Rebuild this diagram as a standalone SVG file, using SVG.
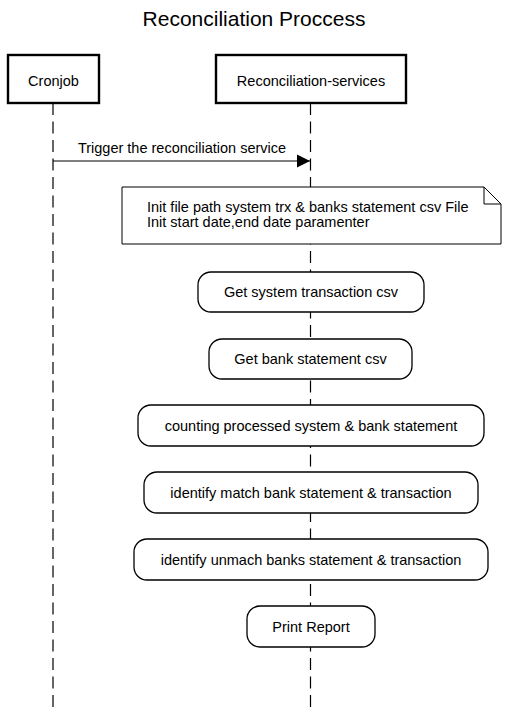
<svg xmlns="http://www.w3.org/2000/svg" width="508" height="708" viewBox="0 0 508 708">
<defs>
<style>
text{font-family:"Liberation Sans",Arial,sans-serif;fill:#000;}
.t{font-size:14.5px;text-anchor:middle;}
.title{font-size:21px;text-anchor:middle;}
.actor{fill:#fff;stroke:#000;stroke-width:2.4;}
.step{fill:#fff;stroke:#000;stroke-width:1.3;}
.life{stroke:#000;stroke-width:1.2;stroke-dasharray:12 6.5;fill:none;}
.msg{stroke:#000;stroke-width:1.2;fill:none;}
</style>
<marker id="arr" viewBox="0 0 14 14" refX="13" refY="7" markerWidth="14" markerHeight="14" markerUnits="userSpaceOnUse" orient="auto">
<path d="M0,0.5 L13,7 L0,13.5 Z" fill="#000"/>
</marker>
</defs>
<rect width="508" height="708" fill="#fff"/>
<text class="title" x="254" y="26">Reconciliation Proccess</text>
<g id="connectors">
<line class="life" x1="53" y1="103" x2="53" y2="708"/>
<line class="life" x1="310.5" y1="103" x2="310.5" y2="708"/>
<line class="msg" x1="53" y1="161" x2="310" y2="161" marker-end="url(#arr)"/>
<text class="t" x="182" y="153">Trigger the reconciliation service</text>
</g>
<g id="cronjob">
<rect class="actor" x="8" y="55" width="91" height="48"/>
<text class="t" x="53.5" y="86">Cronjob</text>
</g>
<g id="reconciliation-services">
<rect class="actor" x="216" y="55" width="190" height="48"/>
<text class="t" x="311" y="86">Reconciliation-services</text>
</g>
<g id="note">
<path d="M122,187 H484 L501,204 V244 H122 Z" fill="#fff" stroke="#000" stroke-width="1"/>
<path d="M484,187 V204 H501" fill="none" stroke="#000" stroke-width="1"/>
<text x="147" y="212" font-size="14.5">Init file path system trx &amp; banks statement csv File</text>
<text x="147" y="227" font-size="14.5">Init start date,end date paramenter</text>
</g>
<g id="get-system-trx">
<rect class="step" x="198" y="272" width="226" height="40" rx="13"/>
<text class="t" x="311" y="297">Get system transaction csv</text>
</g>
<g id="get-bank-statement">
<rect class="step" x="209" y="339" width="203" height="40" rx="13"/>
<text class="t" x="310.5" y="364">Get bank statement csv</text>
</g>
<g id="counting">
<rect class="step" x="138" y="405" width="346" height="41" rx="13"/>
<text class="t" x="311" y="430.5">counting processed system &amp; bank statement</text>
</g>
<g id="identify-match">
<rect class="step" x="144" y="472" width="334" height="41" rx="13"/>
<text class="t" x="311" y="497.5">identify match bank statement &amp; transaction</text>
</g>
<g id="identify-unmatch">
<rect class="step" x="134" y="539" width="354" height="41" rx="13"/>
<text class="t" x="311" y="564.5">identify unmach banks statement &amp; transaction</text>
</g>
<g id="print-report">
<rect class="step" x="247" y="606" width="128" height="41" rx="13"/>
<text class="t" x="311" y="631.5">Print Report</text>
</g>
</svg>
